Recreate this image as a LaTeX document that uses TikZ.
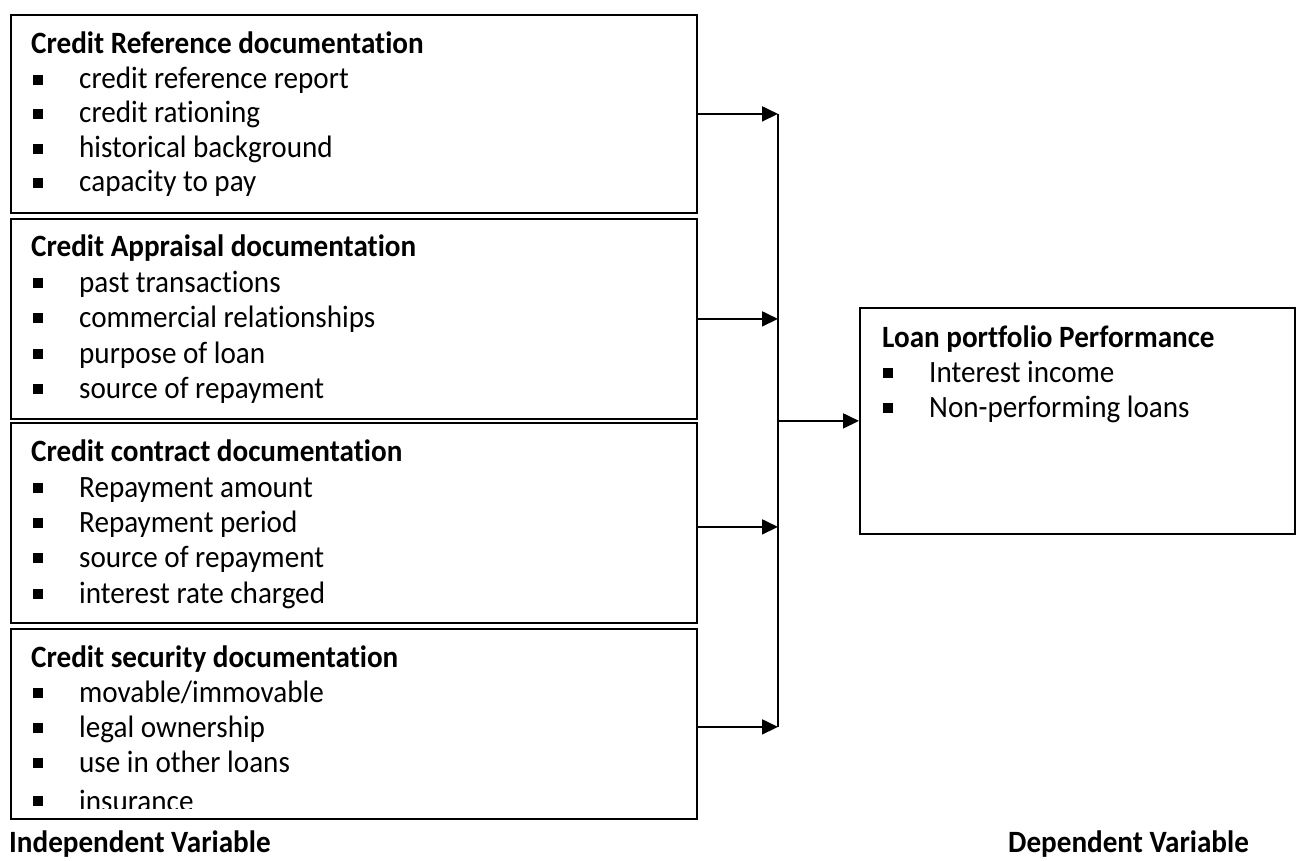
\documentclass[tikz,border=0pt]{standalone}
\usepackage{fontspec}
\setmainfont{Carlito}[FakeStretch=0.94, Ligatures=NoCommon]
\usetikzlibrary{arrows.meta}
\begin{document}
\begin{tikzpicture}[x=1pt,y=-1pt,
  box/.style={draw, line width=1.8pt, inner sep=0pt, anchor=north west, fill=white},
  ttl/.style={anchor=base west, inner sep=0pt, font=\fontsize{31}{35}\selectfont\bfseries},
  itm/.style={anchor=base west, inner sep=0pt, font=\fontsize{31}{35}\selectfont},
  bul/.style={fill=black, minimum size=9.5pt, inner sep=0pt, anchor=south west},
  arr/.style={line width=1.8pt, -{Triangle[length=16pt,width=15pt]}},
  conn/.style={line width=1.8pt}]
\useasboundingbox (0,0) rectangle (1296,861);
% boxes
\node[box, minimum width=686pt, minimum height=198pt] (b1) at (10,14) {};
\node[box, minimum width=686pt, minimum height=200pt] (b2) at (10,218) {};
\node[box, minimum width=686pt, minimum height=200pt] (b3) at (10,422) {};
\node[box, minimum width=686pt, minimum height=190pt] (b4) at (10,628) {};
\node[box, minimum width=435pt, minimum height=226pt] (rb) at (859,307) {};
% box 1
\node[ttl] (t1) at (31,54) {Credit Reference documentation};
\node[bul] (p11) at (33,85) {}; \node[itm] (i11) at (79,89) {credit reference report};
\node[bul] (p12) at (33,119) {}; \node[itm] (i12) at (79,123) {credit rationing};
\node[bul] (p13) at (33,154) {}; \node[itm] (i13) at (79,158) {historical background};
\node[bul] (p14) at (33,188) {}; \node[itm] (i14) at (79,192) {capacity to pay};
% box 2
\node[ttl] (t2) at (31,256) {Credit Appraisal documentation};
\node[bul] (p21) at (33,288) {}; \node[itm] (i21) at (79,292) {past transactions};
\node[bul] (p22) at (33,323) {}; \node[itm] (i22) at (79,327) {commercial relationships};
\node[bul] (p23) at (33,359) {}; \node[itm] (i23) at (79,363) {purpose of loan};
\node[bul] (p24) at (33,394) {}; \node[itm] (i24) at (79,398) {source of repayment};
% box 3
\node[ttl] (t3) at (31,461) {Credit contract documentation};
\node[bul] (p31) at (33,493) {}; \node[itm] (i31) at (79,497) {Repayment amount};
\node[bul] (p32) at (33,528) {}; \node[itm] (i32) at (79,532) {Repayment period};
\node[bul] (p33) at (33,563) {}; \node[itm] (i33) at (79,567) {source of repayment};
\node[bul] (p34) at (33,599) {}; \node[itm] (i34) at (79,603) {interest rate charged};
% box 4
\node[ttl] (t4) at (31,667) {Credit security documentation};
\node[bul] (p41) at (33,698) {}; \node[itm] (i41) at (79,702) {movable/immovable};
\node[bul] (p42) at (33,733) {}; \node[itm] (i42) at (79,737) {legal ownership};
\node[bul] (p43) at (33,768) {}; \node[itm] (i43) at (79,772) {use in other loans};
\begin{scope}
\clip (10,628) rectangle (696,808);
\node[bul] (p44) at (33,806) {}; \node[itm] (i44) at (79,811) {insurance};
\end{scope}
% right box
\node[ttl] (t5) at (882,347) {Loan portfolio Performance};
\node[bul] (p51) at (883,378) {}; \node[itm] (i51) at (929,382) {Interest income};
\node[bul] (p52) at (883,413) {}; \node[itm] (i52) at (929,417) {Non-performing loans};
% labels
\node[ttl] (l1) at (9,852) {Independent Variable};
\node[ttl] (l2) at (1008,852) {Dependent Variable};
% connectors
\coordinate (j) at (778,0);
\draw[arr] (b1.east) -- (b1.east -| j);
\draw[arr] (b2.east) -- (b2.east -| j);
\draw[arr] ([yshift=-4pt]b3.east) -- ([yshift=-4pt]b3.east -| j);
\draw[arr] ([yshift=-3pt]b4.east) -- ([yshift=-3pt]b4.east -| j);
\draw[conn] (b1.east -| j) -- ([yshift=-3pt]b4.east -| j);
\draw[arr] (j |- rb.west) -- (rb.west);
\end{tikzpicture}
\end{document}
